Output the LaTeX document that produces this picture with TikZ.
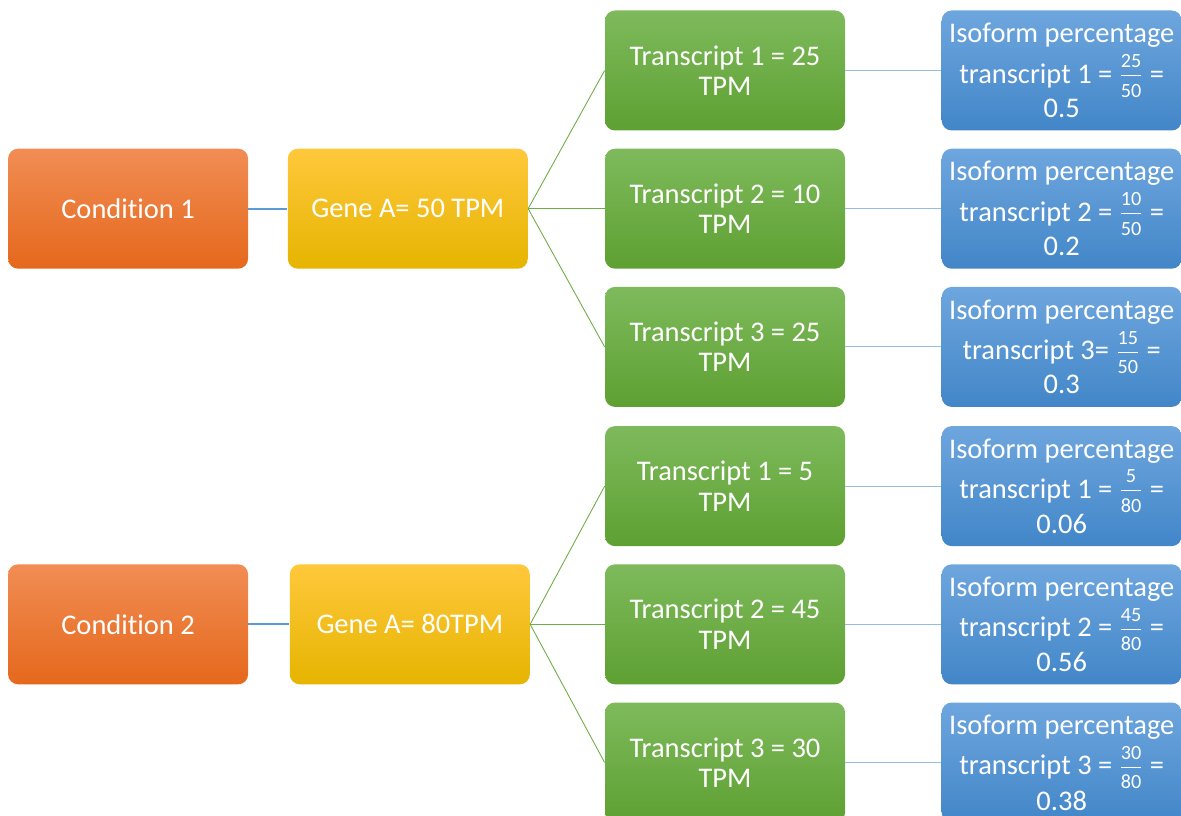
\documentclass[tikz,border=0pt]{standalone}
\usepackage{amsmath}
\usepackage{fontspec}
\setmainfont[Ligatures=NoCommon]{Carlito}
\usetikzlibrary{positioning}
\newcommand{\isofrac}[2]{$\genfrac{}{}{0.5pt}{1}{\text{\fontsize{11.5}{11.5}\selectfont\raisebox{2pt}{#1}}}{\text{\fontsize{11.5}{11.5}\selectfont\raisebox{-2pt}{#2}}}$}

\begin{document}
\begin{tikzpicture}[box/.style={rectangle,rounded corners=0.2cm,minimum width=4.8cm,minimum height=2.4cm,inner sep=1pt,align=center,text=white,font=\fontsize{16.2}{17.2}\selectfont},
	condbox/.style={box,top color=condtop,bottom color=condbot},
	genebox/.style={box,top color=genetop,bottom color=genebot},
	trbox/.style={box,top color=trtop,bottom color=trbot},
	isobox/.style={box,top color=isotop,bottom color=isobot},
	condline/.style={draw=condedge,line width=1.3pt},
	geneline/.style={draw=geneedge,line width=0.5pt},
	isoline/.style={draw=isoedge,line width=0.5pt}]
		\definecolor{condtop}{RGB}{241,141,84}
		\definecolor{condbot}{RGB}{229,104,28}
		\definecolor{genetop}{RGB}{255,200,60}
		\definecolor{genebot}{RGB}{230,180,0}
		\definecolor{trtop}{RGB}{126,186,92}
		\definecolor{trbot}{RGB}{94,160,50}
		\definecolor{isotop}{RGB}{110,166,222}
		\definecolor{isobot}{RGB}{66,134,200}
		\definecolor{condedge}{RGB}{91,155,213}
		\definecolor{geneedge}{RGB}{112,173,71}
		\definecolor{isoedge}{RGB}{150,188,228}
		\useasboundingbox (0,0) rectangle (23.62,-16.32);

		% transcripts
		\node[trbox] (t1) at (14.5,-1.41) {Transcript 1 = 25\\TPM};
		\node[trbox] (t2) [below=0.35cm of t1] {Transcript 2 = 10\\TPM};
		\node[trbox] (t3) [below=0.35cm of t2] {Transcript 3 = 25\\TPM};
		\node[trbox] (t4) [below=0.37cm of t3] {Transcript 1 = 5\\TPM};
		\node[trbox] (t5) [below=0.35cm of t4] {Transcript 2 = 45\\TPM};
		\node[trbox] (t6) [below=0.35cm of t5] {Transcript 3 = 30\\TPM};

		% isoform percentages
		\node[isobox] (p1) [right=1.92cm of t1] {Isoform percentage\\[3pt]transcript 1 = \isofrac{25}{50} =\\[0pt]0.5};
		\node[isobox] (p2) [right=1.92cm of t2] {Isoform percentage\\[3pt]transcript 2 = \isofrac{10}{50} =\\[0pt]0.2};
		\node[isobox] (p3) [right=1.92cm of t3] {Isoform percentage\\[3pt]transcript 3= \isofrac{15}{50} =\\[0pt]0.3};
		\node[isobox] (p4) [right=1.92cm of t4] {Isoform percentage\\[3pt]transcript 1 = \isofrac{5}{80} =\\[0pt]0.06};
		\node[isobox] (p5) [right=1.92cm of t5] {Isoform percentage\\[3pt]transcript 2 = \isofrac{45}{80} =\\[0pt]0.56};
		\node[isobox] (p6) [right=1.92cm of t6] {Isoform percentage\\[3pt]transcript 3 = \isofrac{30}{80} =\\[0pt]0.38};

		% genes and conditions
		\node[genebox] (g1) [left=1.53cm of t2] {Gene A= 50 TPM};
		\node[genebox] (g2) [left=1.49cm of t5] {Gene A= 80TPM};
		\node[condbox] (c1) [left=0.78cm of g1] {Condition 1};
		\node[condbox] (c2) [left=0.82cm of g2] {Condition 2};

		\draw[condline] (c1) -- (g1);
		\draw[condline] (c2) -- (g2);
		\draw[geneline] (g1.east) -- (t1.west);
		\draw[geneline] (g1.east) -- (t2.west);
		\draw[geneline] (g1.east) -- (t3.west);
		\draw[geneline] (g2.east) -- (t4.west);
		\draw[geneline] (g2.east) -- (t5.west);
		\draw[geneline] (g2.east) -- (t6.west);
		\draw[isoline] (t1) -- (p1);
		\draw[isoline] (t2) -- (p2);
		\draw[isoline] (t3) -- (p3);
		\draw[isoline] (t4) -- (p4);
		\draw[isoline] (t5) -- (p5);
		\draw[isoline] (t6) -- (p6);
	\end{tikzpicture}
\end{document}
